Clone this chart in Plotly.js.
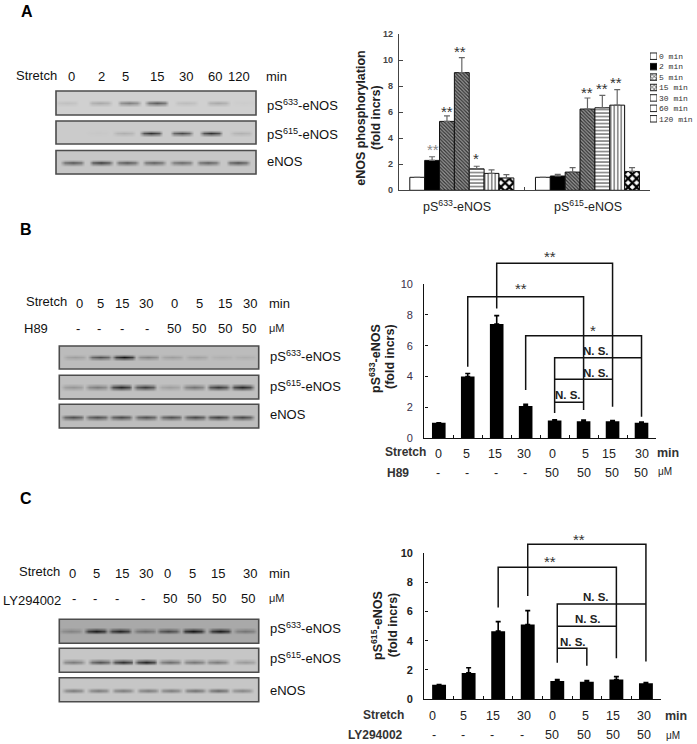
<!DOCTYPE html>
<html><head><meta charset="utf-8">
<script src="https://cdn.plot.ly/plotly-3.0.1.min.js"></script>
<style>html,body{margin:0;padding:0;background:#fff}#c{width:697px;height:744px}</style>
</head><body><div id="c"></div>
<script>
// ---- Panel A bar data
const timesA = ['0 min','2 min','5 min','15 min','30 min','60 min','120 min'];
const groupsA = ['pS633-eNOS','pS615-eNOS'];
const s633A = [1, 2.3, 5.3, 9.05, 1.65, 1.3, 0.95];
const e633A = [0, 0.28, 0.42, 1.15, 0.2, 0.27, 0.25];
const s615A = [1, 1.1, 1.4, 6.25, 6.35, 6.55, 1.45];
const e615A = [0, 0.12, 0.35, 0.85, 0.95, 1.2, 0.3];
// ---- Panel B bar data
const valsB = [1, 4.0, 7.4, 2.1, 1.15, 1.1, 1.1, 1.0];
const errsB = [0, 0.2, 0.55, 0.1, 0.05, 0.08, 0.05, 0.05];
// ---- Panel C bar data
const valsC = [1, 1.8, 4.65, 5.1, 1.25, 1.2, 1.35, 1.1];
const errsC = [0, 0.35, 0.65, 0.95, 0.1, 0.08, 0.2, 0.05];
// ---- Blot band intensities (0 none .. 1 darkest)
const blotA1 = [.08,.2,.42,.6,.1,.2,.02];
const blotA2 = [0,.02,.15,.85,.72,.85,.14];
const blotA3 = [.65,.8,.65,.6,.55,.6,.68];
const blotB1 = [.18,.65,1,.35,.18,.16,.08,.08];
const blotB2 = [.25,.4,.9,.78,.2,.45,.8,.9];
const blotB3 = [.65,.65,.68,.65,.65,.7,.75,.7];
const blotC1 = [.25,.95,.9,.42,.65,1,.95,.35];
const blotC2 = [.42,.65,.85,.92,.5,.45,.42,.25];
const blotC3 = [.42,.42,.42,.42,.42,.48,.52,.36];
// ---- Labels
const stretchA = ['0','2','5','15','30','60','120'];
const stretch8 = ['0','5','15','30','0','5','15','30'];
const dose8 = ['-','-','-','-','50','50','50','50'];

const W = 697, H = 744;
const FONT = 'Liberation Sans, Arial, sans-serif';
const dx = (a,b)=>[a/W,b/W];
const dy = (top,bot)=>[1-bot/H,1-top/H];
const traces = [], annotations = [], shapes = [];

function txt(x,y,text,o={}){
  annotations.push({xref:'x5',yref:'y5',x,y,text,showarrow:false,
    xanchor:o.xa||'center',yanchor:'middle',textangle:o.rot||0,
    font:{family:o.fam||FONT,size:o.size||12,color:o.color||'#222',weight:o.w||400}});
}
// A western-blot strip: grey panel + soft dark bands built from the intensities
function blot(box,lanes,yc,vals,bg,hw,hh){
  const [x0,x1,y0,y1]=box;
  let xs=[x0,x0+.3],mx=[0,0];
  lanes.forEach((c,i)=>{
    xs.push(c-hw-2.5,c-hw+2,c,c+hw-2,c+hw+2.5);
    mx.push(0,.75*vals[i],vals[i],.75*vals[i],0);
  });
  xs.push(x1-.3,x1);mx.push(0,0);
  const ys=[y0,y0+.3,yc-hh-1.8,yc-hh*.5,yc,yc+hh*.5,yc+hh+1.8,y1-.3,y1];
  const prof=[0,0,0,.65,1,.65,0,0,0];
  const z=ys.map((_,r)=>mx.map(m=>m*prof[r]));
  traces.push({type:'heatmap',x:xs,y:ys,z,xaxis:'x5',yaxis:'y5',zsmooth:'best',zmin:0,zmax:1,
    showscale:false,hoverinfo:'skip',colorscale:[[0,bg],[1,'#0c0c0c']]});
  shapes.push({type:'rect',xref:'x5',yref:'y5',x0,x1,y0,y1,line:{color:'#4c4c4c',width:1.6},layer:'above'});
}
// Panel A blots
blot([56,256,91,115],[66.7,100,129,156.7,186,218.3,244],103.3,blotA1,'#d0d0d0',10,2);
blot([56,256,121,144],[68,98,124,151,181.7,211,241],133.3,blotA2,'#cbcbcb',9.5,1.5);
blot([56,256,150.5,174],[72.7,101,127,154,181.7,208.3,238.3],162.7,blotA3,'#c6c6c6',10,1.6);
// Panel B blots
blot([59.3,258.7,346,369],[75,100,124,148.3,171.7,196.7,221.7,245],357.3,blotB1,'#bcbcbc',10,1.6);
blot([59.3,258.7,375.3,399],[72.7,96.7,120.7,145,170,194,218.3,242.3],387.3,blotB2,'#c0c0c0',10,2);
blot([59.3,258.7,404.3,428],[72.7,96.7,120.7,146,171,195,218.3,242.3],417.3,blotB3,'#bdbdbd',10,1.8);
// Panel C blots
blot([59.3,258.7,619.3,643.3],[71,96,120,145,168.3,193.3,220,245],631,blotC1,'#a9a9a9',10,1.8);
blot([59.3,258.7,648.3,672.3],[73.3,100,122.7,146,170,194.3,217.3,245],661.7,blotC2,'#c6c6c6',10,2);
blot([59.3,258.7,677.7,701.7],[73.3,98.3,122.7,147.7,170.7,195,218.3,241.7],690.7,blotC3,'#c6c6c6',9.5,1.4);

// Panel A bars
const patA = [
 {color:'#fff'},
 {color:'#000'},
 {color:'#777',pattern:{shape:'\\',size:2.5,solidity:.5,fgcolor:'#333',bgcolor:'#999'}},
 {color:'#777',pattern:{shape:'\\',size:2.5,solidity:.5,fgcolor:'#333',bgcolor:'#999'}},
 {color:'#fff',pattern:{shape:'-',size:3.5,solidity:.3,fgcolor:'#444',bgcolor:'#fff'}},
 {color:'#fff',pattern:{shape:'|',size:3.5,solidity:.3,fgcolor:'#444',bgcolor:'#fff'}},
 {color:'#fff',pattern:{shape:'x',size:6,solidity:.6,fgcolor:'#000',bgcolor:'#fff'}}
];
timesA.forEach((t,i)=>{
  traces.push({type:'bar',name:t,x:[0,1],y:[s633A[i],s615A[i]],xaxis:'x',yaxis:'y',
    marker:Object.assign({line:{color:'#111',width:1}},patA[i]),
    error_y:{type:'data',symmetric:false,array:[e633A[i],e615A[i]],arrayminus:[0,0],color:'#666',thickness:1.2,width:3},
    hoverinfo:'skip'});
});
// Legend of panel A, as its own small bar subplot
traces.push({type:'bar',orientation:'h',y:timesA,x:timesA.map(()=>1),xaxis:'x4',yaxis:'y4',width:.62,hoverinfo:'skip',
  marker:{color:patA.map(p=>p.color),line:{color:'#222',width:1},
    pattern:{shape:['','','x','x','-','|','+'],size:3,solidity:.5,fgcolor:'#222',bgcolor:patA.map(p=>p.color==='#777'?'#bbb':p.color)}}});

// Panels B, C bars + brackets
function barsXY(v,e,xa,ya){
  traces.push({type:'bar',x:v.map((_,i)=>i),y:v,xaxis:xa,yaxis:ya,width:.47,marker:{color:'#000'},hoverinfo:'skip',
    error_y:{type:'data',symmetric:false,array:e,arrayminus:v.map(()=>0),color:'#000',thickness:1.6,width:2.5}});
}
barsXY(valsB,errsB,'x2','y2');
barsXY(valsC,errsC,'x3','y3');
function bracket(xa,ya,xs,ys){
  traces.push({type:'scatter',mode:'lines',x:xs,y:ys,xaxis:xa,yaxis:ya,cliponaxis:false,hoverinfo:'skip',
    line:{color:'#111',width:1.5,shape:'linear'}});
}
// B brackets (on a hidden y axis with the same scale as y2, extended upward)
bracket('x6','y6',[1,1,5,5],[4.64,9.18,9.18,1.83]);
bracket('x6','y6',[2,2,6,6],[8.42,11.34,11.34,2.05]);
bracket('x6','y6',[3,3,7,7],[3.13,6.65,6.65,1.4]);
bracket('x6','y6',[4,4,7],[1.64,5.22,5.22]);
bracket('x6','y6',[4,6],[3.82,3.82]);
bracket('x6','y6',[4,5],[2.33,2.33]);
// C brackets
bracket('x7','y7',[3,3,7,7],[7.05,10.57,10.57,2.57]);
bracket('x7','y7',[2,2,6,6],[6.27,9.0,9.0,2.8]);
bracket('x7','y7',[4,4,7],[2.5,6.5,6.5]);
bracket('x7','y7',[4,6],[4.98,4.98]);
bracket('x7','y7',[4,5,5],[3.48,3.48,2.29]);

const BL = {size:13,color:'#111'};   // blot-side labels
const NS = {size:11.5,w:700,color:'#222'};
// Text: panel letters
txt(26.7,11,'A',{size:16,w:700,color:'#000'});
txt(26,229.5,'B',{size:16,w:700,color:'#000'});
txt(26,498.5,'C',{size:16,w:700,color:'#000'});
// Panel A blot labels
txt(36,75.3,'Stretch',BL);
[71.7,101,125.7,157.3,185.7,215,239.3].forEach((x,i)=>txt(x,76,stretchA[i],BL));
txt(276,76,'min',BL);
function prot(x,y,n){txt(x,y,n?`pS<sup>${n}</sup>-eNOS`:'eNOS',{xa:'left',size:13,color:'#111'});}
prot(265,105,633);prot(265,134,615);prot(265,161,0);
// Panel B blot labels
txt(46,301.7,'Stretch',BL);
[79,100,121.7,145.7,174,199.3,225,250].forEach((x,i)=>txt(x,303.3,stretch8[i],BL));
txt(279,303.3,'min',BL);
txt(35.7,328.3,'H89',BL);
[77.7,99.3,121.7,147.3,174,199.3,225,249].forEach((x,i)=>txt(x,328.3,dose8[i],BL));
txt(276.7,328.3,'μM',{size:11,color:'#222'});
prot(267.7,356,633);prot(267.7,385.7,615);prot(267.7,414.3,0);
// Panel C blot labels
txt(39.3,571.7,'Stretch',BL);
[72.3,96.7,121.7,145.7,167.3,192.7,218.3,250].forEach((x,i)=>txt(x,573.3,stretch8[i],BL));
txt(279,573.3,'min',BL);
txt(31.7,600,'LY294002',BL);
[74,95,116.7,143.3,170,194.3,219.3,247.7].forEach((x,i)=>txt(x,598.3,dose8[i],BL));
txt(276.7,598.3,'μM',{size:11,color:'#222'});
prot(267.7,628.3,633);prot(267.7,658.3,615);prot(267.7,690.7,0);

// Chart A text
txt(360.7,118,'eNOS phosphorylation',{rot:-90,size:12.5,w:700,color:'#222'});
txt(376,118,'(fold incrs)',{rot:-90,size:12.5,w:700,color:'#222'});
txt(456.7,206,'pS<sup>633</sup>-eNOS',{size:12.5,color:'#222'});
txt(588.3,206,'pS<sup>615</sup>-eNOS',{size:12.5,color:'#222'});
const STAR={size:15,color:'#333'};
[[433.3,149.3,'**','#888'],[447,110.7,'**','#333'],[460,51.3,'**','#333'],[476,158,'*','#333'],[587.3,92.3,'**','#333'],[601.7,88.3,'**','#333'],[616,81.7,'**','#333']]
  .forEach(s=>txt(s[0],s[1]+.5,s[2],{size:15,color:s[3]}));

// Chart B text
txt(375,359,'pS<sup>633</sup>-eNOS',{rot:-90,size:12.5,w:700,color:'#222'});
txt(390,357,'(fold incrs)',{rot:-90,size:12.5,w:700,color:'#222'});
txt(405.7,451.7,'Stretch',{size:12,w:700,color:'#333'});
[438.3,466.7,495.3,524,552.3,585,609.3,641.7].forEach((x,i)=>txt(x,454.3,stretch8[i],{size:12.5,color:'#222'}));
txt(668,452.5,'min',{size:12.5,w:700,color:'#333'});
txt(398,473,'H89',{size:12,w:700,color:'#333'});
[437.7,466.7,496,525,552.3,584.3,612.3,641].forEach((x,i)=>txt(x,473,dose8[i],{size:12.5,color:'#222'}));
txt(665,471.5,'μM',{size:10,color:'#222'});
txt(550,256.5,'**',STAR);
txt(520.7,288.5,'**',STAR);
txt(593,330,'*',STAR);
txt(596,351,'N. S.',NS);
txt(596,373,'N. S.',NS);
txt(568,395,'N. S.',NS);

// Chart C text
txt(377,626,'pS<sup>615</sup>-eNOS',{rot:-90,size:12.5,w:700,color:'#222'});
txt(393.3,625,'(fold incrs)',{rot:-90,size:12.5,w:700,color:'#222'});
txt(383.5,715,'Stretch',{size:12,w:700,color:'#333'});
[432,463.3,492.7,524,552.3,585,613.3,644.3].forEach((x,i)=>txt(x,716,stretch8[i],{size:12.5,color:'#222'}));
txt(676,716,'min',{size:12.5,w:700,color:'#333'});
txt(375,735,'LY294002',{size:12,w:700,color:'#333'});
[434,463.3,492.3,521.7,552.3,584.3,613.3,644.3].forEach((x,i)=>txt(x,735,dose8[i],{size:12.5,color:'#222'}));
txt(672.7,735,'μM',{size:10,color:'#222'});
txt(579.3,539,'**',STAR);
txt(550,561.5,'**',STAR);
txt(596,597,'N. S.',NS);
txt(587.7,619,'N. S.',NS);
txt(573.3,641.7,'N. S.',NS);

const xBase = {showgrid:false,zeroline:false,showticklabels:false,ticks:'inside',ticklen:3,tickwidth:1.4,
  showline:true,linecolor:'#111',linewidth:1.4,tickcolor:'#111',fixedrange:true};
const yBase = {showgrid:false,zeroline:false,ticks:'inside',ticklen:3.5,tickwidth:1.4,showline:true,
  linecolor:'#111',linewidth:1.4,tickcolor:'#111',fixedrange:true,tickmode:'array',ticklabelstandoff:8};
const mkXt = n => Array.from({length:n+1},(_,i)=>i-0.5);
const hidden = {visible:false,fixedrange:true};
const pxB = (438.3-284)/10, pxC = (699.3-552.7)/10;
const layout = {
  width:W,height:H,margin:{l:0,r:0,t:0,b:0},paper_bgcolor:'#fff',plot_bgcolor:'rgba(0,0,0,0)',
  showlegend:false,barmode:'group',bargap:0.172,bargroupgap:0,font:{family:FONT},
  annotations,shapes,
  xaxis5:Object.assign({domain:[0,1],range:[0,W],anchor:'y5'},hidden),
  yaxis5:Object.assign({domain:[0,1],range:[H,0],anchor:'x5'},hidden),
  xaxis:Object.assign({},xBase,{domain:dx(399,650.3),range:[-.5,1.5],tickmode:'array',tickvals:mkXt(2),anchor:'y',linecolor:'#444',tickcolor:'#444'}),
  yaxis:Object.assign({},yBase,{domain:dy(34.3,190.3),range:[0,12],tickvals:[0,2,4,6,8,10,12],anchor:'x',linecolor:'#444',tickcolor:'#444',
    ticklabelstandoff:3,tickfont:{family:FONT,size:9,color:'#444',weight:700}}),
  xaxis2:Object.assign({},xBase,{domain:dx(424.3,656),range:[-.5,7.5],tickmode:'array',tickvals:mkXt(8),anchor:'y2'}),
  yaxis2:Object.assign({},yBase,{domain:dy(284,438.3),range:[0,10],tickvals:[0,2,4,6,8,10],anchor:'x2',
    tickfont:{family:FONT,size:11,color:'#3a2f4a'}}),
  xaxis3:Object.assign({},xBase,{domain:dx(424.3,660.7),range:[-.5,7.5],tickmode:'array',tickvals:mkXt(8),anchor:'y3'}),
  yaxis3:Object.assign({},yBase,{domain:dy(552.7,699.3),range:[0,10],tickvals:[0,2,4,6,8,10],anchor:'x3',
    tickfont:{family:FONT,size:11,color:'#222',weight:700}}),
  xaxis4:{domain:dx(650,657),range:[0,1],visible:false,fixedrange:true,anchor:'y4'},
  yaxis4:{domain:dy(51,124),type:'category',categoryorder:'array',categoryarray:timesA,autorange:'reversed',side:'right',
    anchor:'x4',showgrid:false,zeroline:false,showline:false,ticks:'',fixedrange:true,
    ticklabelstandoff:1,tickfont:{family:'Liberation Mono, DejaVu Sans Mono, monospace',size:8,color:'#333'}},
  // bracket axes: same x as chart B / C, y scale identical but reaching above 10
  xaxis6:Object.assign({domain:dx(424.3,656),range:[-.5,7.5],anchor:'y6'},hidden),
  yaxis6:Object.assign({domain:dy(240,438.3),range:[0,(438.3-240)/pxB],anchor:'x6'},hidden),
  xaxis7:Object.assign({domain:dx(424.3,660.7),range:[-.5,7.5],anchor:'y7'},hidden),
  yaxis7:Object.assign({domain:dy(525,699.3),range:[0,(699.3-525)/pxC],anchor:'x7'},hidden)
};
Plotly.newPlot('c',traces,layout,{displayModeBar:false,responsive:false});
</script></body></html>
